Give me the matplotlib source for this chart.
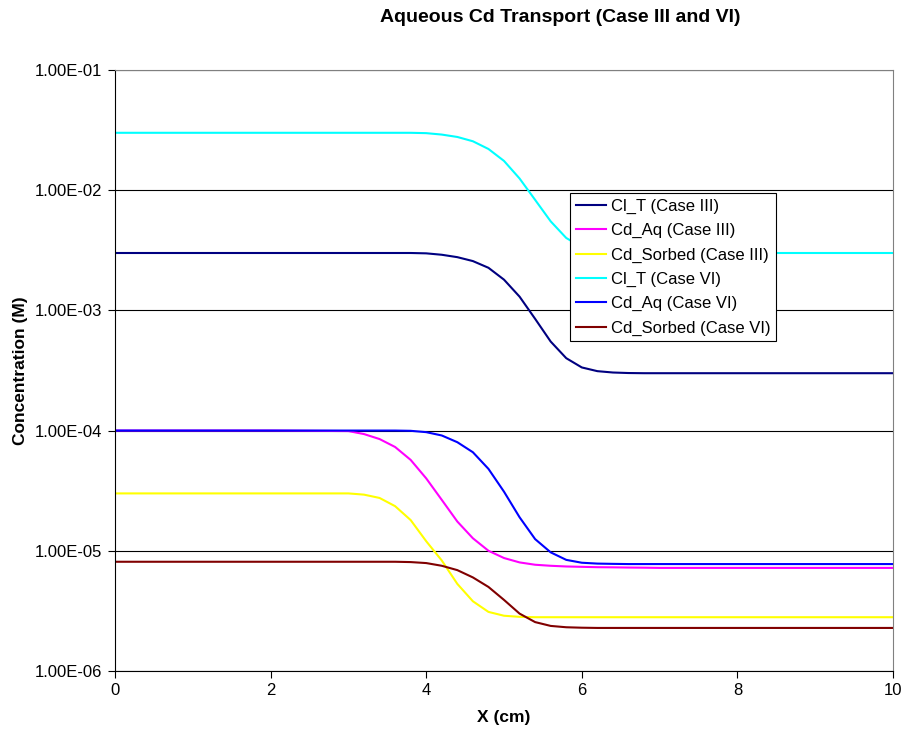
import matplotlib
matplotlib.use('Agg')
import matplotlib.pyplot as plt
from matplotlib.ticker import FixedLocator, FuncFormatter, NullLocator

plt.rcParams['font.family'] = ['Liberation Sans', 'DejaVu Sans']

# distance along column (cm)
x = [0, 1, 2, 3, 3.2, 3.4, 3.6, 3.8, 4.0, 4.2, 4.4, 4.6, 4.8, 5.0,
     5.2, 5.4, 5.6, 5.8, 6.0, 6.2, 6.4, 6.6, 6.8, 7.0, 8, 9, 10]

cl_t_iii = [3.0e-3, 3.0e-3, 3.0e-3, 3.0e-3, 3.0e-3, 3.0e-3, 3.0e-3, 3.0e-3,
            2.98e-3, 2.9e-3, 2.77e-3, 2.57e-3, 2.26e-3, 1.8e-3, 1.3e-3,
            8.5e-4, 5.5e-4, 4.0e-4, 3.35e-4, 3.12e-4, 3.04e-4, 3.01e-4,
            3.0e-4, 3.0e-4, 3.0e-4, 3.0e-4, 3.0e-4]
cd_aq_iii = [1.0e-4, 1.0e-4, 1.0e-4, 9.9e-5, 9.35e-5, 8.5e-5, 7.3e-5, 5.7e-5,
             4.0e-5, 2.65e-5, 1.75e-5, 1.27e-5, 1.0e-5, 8.7e-6, 8.0e-6,
             7.65e-6, 7.5e-6, 7.4e-6, 7.35e-6, 7.3e-6, 7.28e-6, 7.25e-6,
             7.23e-6, 7.2e-6, 7.2e-6, 7.2e-6, 7.2e-6]
cd_sorbed_iii = [3.0e-5, 3.0e-5, 3.0e-5, 3.0e-5, 2.93e-5, 2.75e-5, 2.35e-5,
                 1.8e-5, 1.2e-5, 8.3e-6, 5.3e-6, 3.8e-6, 3.1e-6, 2.88e-6,
                 2.82e-6, 2.8e-6, 2.8e-6, 2.8e-6, 2.8e-6, 2.8e-6, 2.8e-6,
                 2.8e-6, 2.8e-6, 2.8e-6, 2.8e-6, 2.8e-6, 2.8e-6]
cl_t_vi = [3.0e-2, 3.0e-2, 3.0e-2, 3.0e-2, 3.0e-2, 3.0e-2, 3.0e-2, 3.0e-2,
           2.98e-2, 2.9e-2, 2.77e-2, 2.55e-2, 2.2e-2, 1.75e-2, 1.25e-2,
           8.3e-3, 5.5e-3, 4.0e-3, 3.35e-3, 3.12e-3, 3.04e-3, 3.01e-3,
           3.0e-3, 3.0e-3, 3.0e-3, 3.0e-3, 3.0e-3]
cd_aq_vi = [1.0e-4, 1.0e-4, 1.0e-4, 1.0e-4, 1.0e-4, 1.0e-4, 1.0e-4, 9.95e-5,
            9.7e-5, 9.1e-5, 8.0e-5, 6.6e-5, 4.8e-5, 3.1e-5, 1.9e-5, 1.25e-5,
            9.7e-6, 8.4e-6, 7.95e-6, 7.82e-6, 7.78e-6, 7.75e-6, 7.75e-6,
            7.75e-6, 7.75e-6, 7.75e-6, 7.75e-6]
cd_sorbed_vi = [8.1e-6, 8.1e-6, 8.1e-6, 8.1e-6, 8.1e-6, 8.1e-6, 8.1e-6,
                8.05e-6, 7.9e-6, 7.5e-6, 6.9e-6, 6.0e-6, 5.0e-6, 3.9e-6,
                3.0e-6, 2.55e-6, 2.37e-6, 2.31e-6, 2.29e-6, 2.28e-6, 2.28e-6,
                2.28e-6, 2.28e-6, 2.28e-6, 2.28e-6, 2.28e-6, 2.28e-6]

series = [
    ('Cl_T (Case III)', cl_t_iii, '#000080'),
    ('Cd_Aq (Case III)', cd_aq_iii, '#FF00FF'),
    ('Cd_Sorbed (Case III)', cd_sorbed_iii, '#FFFF00'),
    ('Cl_T (Case VI)', cl_t_vi, '#00FFFF'),
    ('Cd_Aq (Case VI)', cd_aq_vi, '#0000FF'),
    ('Cd_Sorbed (Case VI)', cd_sorbed_vi, '#800000'),
]

yticks = [1e-6, 1e-5, 1e-4, 1e-3, 1e-2, 1e-1]
xticks = [0, 2, 4, 6, 8, 10]

fig = plt.figure(figsize=(9.03, 7.37), dpi=100)
ax = fig.add_axes([0.1274, 0.0896, 0.8615, 0.8155])

for label, y, c in series:
    ax.plot(x, y, color=c, lw=1.5, label=label)

ax.set_yscale('log')
ax.set_xlim(0, 10)
ax.set_ylim(1e-6, 1e-1)
ax.yaxis.set_major_locator(FixedLocator(yticks))
ax.yaxis.set_minor_locator(NullLocator())
ax.yaxis.set_major_formatter(FuncFormatter(lambda v, p: '%.2E' % v))
ax.set_xticks(xticks)
ax.grid(axis='y', color='black', lw=0.8)
ax.set_axisbelow(True)

ax.tick_params(direction='out', length=5, width=0.8, labelsize=12, color='black', pad=4)
for s in ['top', 'right']:
    ax.spines[s].set_color('#808080')
for s in ['left', 'bottom']:
    ax.spines[s].set_color('black')

ax.set_xlabel('X (cm)', fontsize=12.5, fontweight='bold', labelpad=8)
ax.set_ylabel('Concentration (M)', fontsize=12.5, fontweight='bold', labelpad=5)
fig.text(560 / 903, 1 - 17 / 737, 'Aqueous Cd Transport (Case III and VI)',
         ha='center', va='center', fontsize=14, fontweight='bold')

leg = ax.legend(loc='upper left', bbox_to_anchor=(0.585, 0.795), fontsize=12,
                frameon=True, fancybox=False, framealpha=1, edgecolor='black',
                handlelength=1.8, handletextpad=0.3, labelspacing=0.55,
                borderpad=0.35, borderaxespad=0)
leg.get_frame().set_linewidth(0.8)

fig.savefig('out.png', dpi=100)
